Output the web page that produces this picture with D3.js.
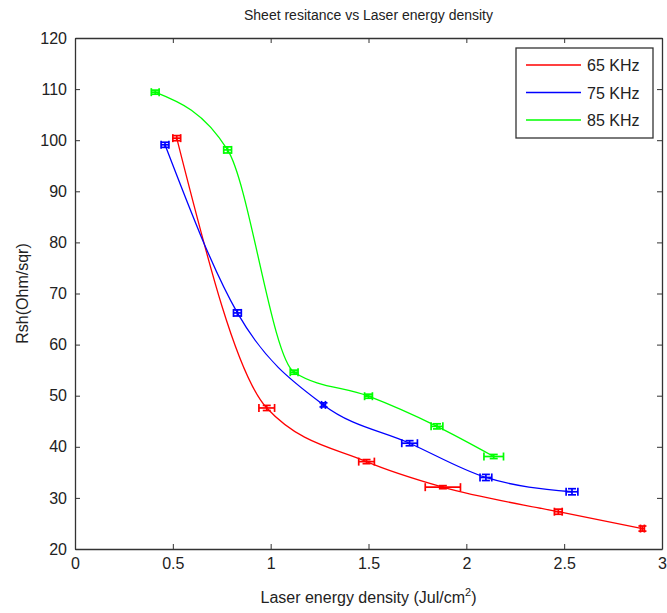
<!DOCTYPE html>
<html>
<head>
<meta charset="utf-8">
<script src="https://cdn.jsdelivr.net/npm/d3@7"></script>
<style>
  body { margin: 0; background: #fff; }
  svg { display: block; }
  text { font-family: "Liberation Sans", Arial, sans-serif; fill: #222; }
  .axis path, .axis line { stroke: #333; }
</style>
</head>
<body>
<svg id="chart" width="667" height="613"></svg>
<script>
// series names
var seriesNames = ["65 KHz", "75 KHz", "85 KHz"];
var seriesColors = ["#ff0000", "#0000ff", "#00ff00"];

// 65 KHz
var x65 = [0.52, 0.98, 1.49, 1.88, 2.47, 2.90];
var y65 = [100.4, 47.6, 37.1, 32.1, 27.3, 24.0];
var xe65 = [0.02, 0.04, 0.04, 0.09, 0.02, 0.01];
var ye65 = [0.5, 0.5, 0.4, 0.3, 0.5, 0.5];

// 75 KHz
var x75 = [0.46, 0.83, 1.27, 1.71, 2.10, 2.54];
var y75 = [99.1, 66.2, 48.2, 40.7, 34.0, 31.2];
var xe75 = [0.02, 0.02, 0.01, 0.04, 0.03, 0.03];
var ye75 = [0.5, 0.6, 0.4, 0.5, 0.6, 0.6];

// 85 KHz
var x85 = [0.41, 0.78, 1.12, 1.50, 1.85, 2.14];
var y85 = [109.4, 98.1, 54.6, 49.9, 44.0, 38.1];
var xe85 = [0.02, 0.02, 0.02, 0.02, 0.03, 0.05];
var ye85 = [0.4, 0.6, 0.4, 0.4, 0.5, 0.4];

var xTicks = [0, 0.5, 1, 1.5, 2, 2.5, 3];
var yTicks = [20, 30, 40, 50, 60, 70, 80, 90, 100, 110, 120];

var series = [
    {xs: x65, ys: y65, xe: xe65, ye: ye65},
    {xs: x75, ys: y75, xe: xe75, ye: ye75},
    {xs: x85, ys: y85, xe: xe85, ye: ye85}
];

// plot box (window.top is taken, so use prefixed names)
var pL = 75, pR = 662, pT = 38, pB = 549;

var svg = d3.select("#chart");

var x = d3.scaleLinear().domain([0, 3]).range([pL, pR]);
var y = d3.scaleLinear().domain([20, 120]).range([pB, pT]);

// axes, ticks pointing inward on all 4 sides
var fmt = d3.format("");
svg.append("g").attr("class", "axis")
    .attr("transform", "translate(0," + pB + ")")
    .call(d3.axisBottom(x).tickValues(xTicks).tickFormat(fmt).tickSizeInner(-5).tickSizeOuter(0).tickPadding(8))
    .call(g => g.selectAll("text").attr("font-size", 16).attr("dy", "0.75em"));
svg.append("g").attr("class", "axis")
    .attr("transform", "translate(0," + pT + ")")
    .call(d3.axisTop(x).tickValues(xTicks).tickFormat("").tickSizeInner(-5).tickSizeOuter(0));
svg.append("g").attr("class", "axis")
    .attr("transform", "translate(" + pL + ",0)")
    .call(d3.axisLeft(y).tickValues(yTicks).tickFormat(fmt).tickSizeInner(-5).tickSizeOuter(0).tickPadding(8))
    .call(g => g.selectAll("text").attr("font-size", 16));
svg.append("g").attr("class", "axis")
    .attr("transform", "translate(" + pR + ",0)")
    .call(d3.axisRight(y).tickValues(yTicks).tickFormat("").tickSizeInner(-5).tickSizeOuter(0));
svg.selectAll(".axis .domain").attr("stroke", "#333").attr("stroke-width", 1.3);

// smooth curves
var line = d3.line()
    .x(d => x(d[0]))
    .y(d => y(d[1]))
    .curve(d3.curveMonotoneX);

series.forEach(function(s, k) {
    var pts = s.xs.map((v, i) => [v, s.ys[i]]);
    var col = seriesColors[k];
    svg.append("path")
        .attr("d", line(pts))
        .attr("fill", "none")
        .attr("stroke", col)
        .attr("stroke-width", 1.3);

    var eb = svg.append("g").attr("stroke", col).attr("stroke-width", 1.7).attr("fill", "none");
    pts.forEach(function(p, i) {
        var cx = x(p[0]), cy = y(p[1]);
        var x0 = x(p[0] - s.xe[i]), x1 = x(p[0] + s.xe[i]);
        var y0 = y(p[1] - s.ye[i]), y1 = y(p[1] + s.ye[i]);
        // horizontal error bar with caps
        eb.append("line").attr("x1", x0).attr("x2", x1).attr("y1", cy).attr("y2", cy);
        eb.append("line").attr("x1", x0).attr("x2", x0).attr("y1", cy - 4).attr("y2", cy + 4);
        eb.append("line").attr("x1", x1).attr("x2", x1).attr("y1", cy - 4).attr("y2", cy + 4);
        // vertical error bar with caps
        eb.append("line").attr("x1", cx).attr("x2", cx).attr("y1", y0).attr("y2", y1);
        eb.append("line").attr("x1", cx - 4).attr("x2", cx + 4).attr("y1", y0).attr("y2", y0);
        eb.append("line").attr("x1", cx - 4).attr("x2", cx + 4).attr("y1", y1).attr("y2", y1);
    });
});

// title
svg.append("text")
    .attr("x", (pL + pR) / 2).attr("y", 20)
    .attr("text-anchor", "middle").attr("font-size", 14)
    .text("Sheet resitance vs Laser energy density");

// x label with superscript
var xl = svg.append("text")
    .attr("x", (pL + pR) / 2).attr("y", 603)
    .attr("text-anchor", "middle").attr("font-size", 16);
xl.append("tspan").text("Laser energy density (Jul/cm");
xl.append("tspan").attr("font-size", 11).attr("dy", -7).text("2");
xl.append("tspan").attr("dy", 7).text(")");

// y label
svg.append("text")
    .attr("transform", "translate(28," + ((pT + pB) / 2) + ") rotate(-90)")
    .attr("text-anchor", "middle").attr("font-size", 16)
    .text("Rsh(Ohm/sqr)");

// legend
var lg = svg.append("g").attr("transform", "translate(516,48)");
lg.append("rect").attr("width", 137).attr("height", 90)
    .attr("fill", "#fff").attr("stroke", "#333").attr("stroke-width", 1.3);
seriesNames.forEach(function(n, i) {
    var yy = 17 + i * 27.5;
    lg.append("line").attr("x1", 10).attr("x2", 65).attr("y1", yy).attr("y2", yy)
        .attr("stroke", seriesColors[i]).attr("stroke-width", 1.3);
    lg.append("text").attr("x", 71).attr("y", yy + 6).attr("font-size", 16).text(n);
});
</script>
</body>
</html>
